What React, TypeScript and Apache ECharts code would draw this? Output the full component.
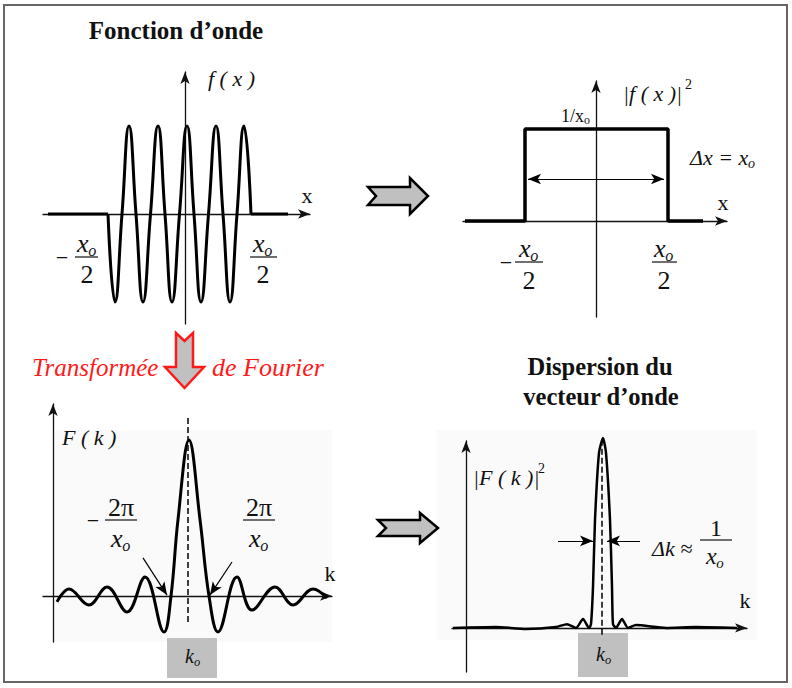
import React, { useEffect, useRef } from "react";
import * as echarts from "echarts";

const SERIF = "Liberation Serif";

// ---------- Panel 1 : wave function f(x) ----------
const waveLeftFlat = [[-13.7, 0], [-7.7, 0]];
const waveOsc = [
  [-7.7, 0], [-7.0, -1], [-6.3, 0], [-5.6, 1], [-4.9, 0], [-4.2, -1], [-3.45, 0],
  [-2.7, 1], [-2.0, 0], [-1.3, -1], [-0.55, 0], [0.2, 1], [0.9, 0], [1.6, -1],
  [2.35, 0], [3.1, 1], [3.8, 0], [4.5, -1], [5.2, 0], [5.9, 1], [6.6, 0],
];
const waveRightFlat = [[6.6, 0], [10.3, 0]];

// ---------- Panel 2 : |f(x)|^2 ----------
const densityPts = [[-13.1, 0], [-7.1, 0], [-7.1, 1], [7.2, 1], [7.2, 0], [10.7, 0]];
const deltaXArrow = [[-6.8, 0.457], [6.8, 0.457]];

// ---------- Panel 3 : F(k) ----------
const fkPts = [
  [0.4, -0.038], [1.6, 0.045], [3.6, -0.058], [5.4, 0.058], [7.4, -0.103], [9.2, 0.122],
  [11.1, -0.231], [11.8, 0], [12.5, 0.49], [13.6, 1.0], [14.7, 0.49], [15.6, 0],
  [16.5, -0.231], [18.4, 0.122], [19.9, -0.09], [22.2, 0.058], [24.0, -0.058],
  [26.0, 0.045], [27.4, -0.013],
];
const fkCenterLine = [[13.5, 1.141], [13.5, -0.173]];
const fkArrowLeft = [[9.0, 0.244], [11.4, 0.006]];
const fkArrowRight = [[17.9, 0.218], [15.7, 0.006]];

// ---------- Panel 4 : |F(k)|^2 ----------
const fk2Pts = [
  [-1.3, 0], [3.0, 0.005], [6.0, -0.005], [9.0, 0.005], [10.1, 0.02], [11.0, 0],
  [11.7, 0.047], [12.3, 0], [12.5, 0.02], [12.7, 0.216], [12.9, 0.568], [13.3, 0.921],
  [13.7, 1.0], [14.0, 0.921], [14.4, 0.568], [14.6, 0.216], [14.7, 0.02], [15.0, 0],
  [15.6, 0.047], [16.2, 0], [17.0, 0.015], [20.0, 0], [23.0, 0.005], [27.1, 0],
];
const fk2CenterLine = [[13.6, 0.99], [13.6, -0.047]];
const dkArrowLeft = [[9.2, 0.458], [12.7, 0.458]];
const dkArrowRight = [[17.4, 0.458], [14.1, 0.458]];

// ---------- helpers ----------
function T(x: number, y: number, text: string, size: number, o: any = {}) {
  return {
    type: "text",
    x,
    y,
    silent: true,
    z: 10,
    style: {
      text,
      fontSize: size,
      fontFamily: SERIF,
      fontStyle: o.italic ? "italic" : "normal",
      fontWeight: o.bold ? "bold" : "normal",
      fill: o.color || "#111",
      textAlign: o.align || "center",
      textVerticalAlign: "middle",
    },
  };
}
function XO(x: number, y: number, size: number, italicSub = true) {
  return [
    T(x, y, "x", size, { italic: true, align: "left" }),
    T(x + size * 0.43, y + size * 0.3, "o", size * 0.62, { italic: italicSub, align: "left" }),
  ];
}
function KO(cx: number, y: number, size: number) {
  return [
    T(cx - 7, y, "k", size, { italic: true, align: "left" }),
    T(cx + 2, y + size * 0.3, "o", size * 0.62, { italic: true, align: "left" }),
  ];
}
function bar(x1: number, x2: number, y: number) {
  return { type: "line", silent: true, z: 10, shape: { x1, y1: y, x2, y2: y }, style: { stroke: "#111", lineWidth: 1.2 } };
}
function rightArrow(tipX: number, cy: number, len: number, headH: number, bodyH: number) {
  const hb = tipX - len * 0.3;
  const tail = tipX - len;
  return {
    type: "polygon",
    silent: true,
    shape: {
      points: [
        [tail, cy - bodyH], [hb, cy - bodyH], [hb, cy - headH], [tipX, cy], [hb, cy + headH],
        [hb, cy + bodyH], [tail, cy + bodyH], [tail + 8, cy],
      ],
    },
    style: { fill: "#c0c0c0", stroke: "#000", lineWidth: 2.5, lineJoin: "miter" },
  };
}

function axisPair(i: number, xr: number[], yr: number[]) {
  const line = {
    onZero: true,
    symbol: ["none", "arrow"],
    symbolSize: [7, 12],
    lineStyle: { color: "#111", width: 1.3 },
  };
  const common = {
    type: "value",
    gridIndex: i,
    axisLine: line,
    axisTick: { show: false },
    axisLabel: { show: false },
    splitLine: { show: false },
  };
  return {
    x: { ...common, min: xr[0], max: xr[1] },
    y: { ...common, min: yr[0], max: yr[1] },
  };
}

function lineSeries(i: number, data: number[][], o: any = {}) {
  return {
    type: "line",
    xAxisIndex: i,
    yAxisIndex: i,
    data,
    symbol: "none",
    showSymbol: false,
    silent: true,
    clip: false,
    smooth: o.smooth ?? false,
    lineStyle: { color: "#000", width: o.width ?? 3, type: o.dash ? "dashed" : "solid" },
    z: 3,
  };
}
function arrowSeries(i: number, pairs: number[][][], both = false) {
  return {
    type: "line",
    xAxisIndex: i,
    yAxisIndex: i,
    data: [],
    symbol: "none",
    silent: true,
    markLine: {
      silent: true,
      symbol: both ? ["arrow", "arrow"] : ["none", "arrow"],
      symbolSize: [8, 13],
      label: { show: false },
      lineStyle: { color: "#000", width: 1.2, type: "solid" },
      data: pairs.map((p) => [{ coord: p[0] }, { coord: p[1] }]),
    },
  };
}

export default function App() {
  const ref = useRef<HTMLDivElement>(null);
  useEffect(() => {
    document.body.style.margin = "0";
    const chart = echarts.init(ref.current!, null, { renderer: "svg" });
    const a0 = axisPair(0, [-14.2, 12.5], [-1.25, 1.614]);
    const a1 = axisPair(1, [-13.3, 13.1], [-1.043, 1.522]);
    const a2 = axisPair(2, [-1.0, 27.9], [-0.295, 1.231]);
    const a3 = axisPair(3, [-1.4, 28.1], [-0.232, 0.984]);

    const graphic: any[] = [
      // frame
      { type: "rect", silent: true, shape: { x: 4, y: 5, width: 783, height: 677 }, style: { fill: "none", stroke: "#666", lineWidth: 2 } },
      // faint plot backgrounds
      { type: "rect", silent: true, z: -1, shape: { x: 55, y: 430, width: 277, height: 212 }, style: { fill: "#fafafa" } },
      { type: "rect", silent: true, z: -1, shape: { x: 437, y: 430, width: 320, height: 210 }, style: { fill: "#fafafa" } },
      // titles
      T(176, 30, "Fonction d\u2019onde", 25, { bold: true }),
      T(600, 366, "Dispersion du", 24.5, { bold: true }),
      T(601, 396, "vecteur d\u2019onde", 24.5, { bold: true }),
      // panel 1 labels
      T(208, 78, "f ( x )", 22, { italic: true, align: "left" }),
      T(307, 195, "x", 22),
      T(62, 257, "\u2212", 22),
      ...XO(77, 243, 26),
      bar(75, 98, 257),
      T(87, 274, "2", 26),
      ...XO(253, 243, 26),
      bar(250, 277, 257),
      T(263, 274, "2", 26),
      // arrows between panels
      rightArrow(428, 196, 60, 18, 9),
      rightArrow(438, 528, 60, 15, 8),
      {
        type: "polygon",
        silent: true,
        shape: { points: [[176, 333], [184.5, 341], [193, 333], [193, 367], [204, 367], [184.5, 388], [165, 367], [176, 367]] },
        style: { fill: "#c0c0c0", stroke: "#ff1a1a", lineWidth: 2.5, lineJoin: "miter" },
      },
      T(32, 367, "Transform\u00e9e", 25, { italic: true, color: "#ff1a1a", align: "left" }),
      T(212, 367, "de Fourier", 26, { italic: true, color: "#ff1a1a", align: "left" }),
      // panel 2 labels
      T(623, 93, "|f ( x )|", 22, { italic: true, align: "left" }),
      T(685, 84, "2", 14, { align: "left" }),
      T(561, 116, "1/x", 18, { align: "left" }),
      T(584, 120, "o", 12, { align: "left" }),
      T(690, 157, "\u0394x = x", 22, { italic: true, align: "left" }),
      T(748, 163, "o", 14, { italic: true, align: "left" }),
      T(723, 202, "x", 22),
      T(506, 262, "\u2212", 22),
      ...XO(519, 248, 26),
      bar(515, 543, 262),
      T(529, 280, "2", 26),
      ...XO(654, 248, 26),
      bar(652, 677, 262),
      T(664, 280, "2", 26),
      // panel 3 labels
      T(62, 437, "F ( k )", 22, { italic: true, align: "left" }),
      T(330, 573, "k", 22),
      T(93, 520, "\u2212", 22),
      T(121, 507, "2\u03c0", 26),
      bar(105, 137, 520),
      ...XO(111, 538, 26),
      T(259, 507, "2\u03c0", 26),
      bar(243, 275, 520),
      ...XO(249, 538, 26),
      { type: "rect", silent: true, shape: { x: 167, y: 638, width: 50, height: 40 }, style: { fill: "#c0c0c0" } },
      ...KO(192, 656, 20),
      // panel 4 labels
      T(473, 477, "|F ( k )|", 22, { italic: true, align: "left" }),
      T(538, 468, "2", 14, { align: "left" }),
      T(652, 548, "\u0394k \u2248", 22, { italic: true, align: "left" }),
      T(716, 528, "1", 24),
      bar(700, 732, 540),
      ...XO(706, 556, 24),
      T(745, 600, "k", 22),
      { type: "rect", silent: true, shape: { x: 578, y: 633, width: 50, height: 44 }, style: { fill: "#c0c0c0" } },
      ...KO(603, 654, 20),
    ];

    chart.setOption({
      animation: false,
      backgroundColor: "#ffffff",
      grid: [
        { left: 43, top: 72, width: 267, height: 252 },
        { left: 463, top: 81, width: 264, height: 236 },
        { left: 43, top: 404, width: 289, height: 238 },
        { left: 452, top: 441, width: 295, height: 231 },
      ],
      xAxis: [a0.x, a1.x, a2.x, a3.x],
      yAxis: [a0.y, a1.y, a2.y, a3.y],
      series: [
        lineSeries(0, waveLeftFlat),
        lineSeries(0, waveOsc, { smooth: 0.5 }),
        lineSeries(0, waveRightFlat),
        lineSeries(1, densityPts, { width: 3.5 }),
        arrowSeries(1, [deltaXArrow], true),
        lineSeries(2, fkPts, { smooth: 0.4 }),
        lineSeries(2, fkCenterLine, { width: 1.5, dash: true }),
        arrowSeries(2, [fkArrowLeft, fkArrowRight]),
        lineSeries(3, fk2Pts, { smooth: 0.2, width: 2.5 }),
        lineSeries(3, fk2CenterLine, { width: 1.5, dash: true }),
        arrowSeries(3, [dkArrowLeft, dkArrowRight]),
      ],
      graphic,
    });
    return () => chart.dispose();
  }, []);
  return <div ref={ref} style={{ position: "absolute", left: 0, top: 0, width: 792, height: 688 }} />;
}
